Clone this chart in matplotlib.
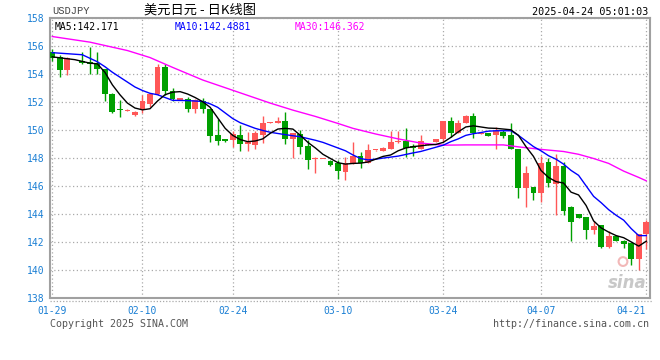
import numpy as np
import matplotlib
matplotlib.use("Agg")
from matplotlib import pyplot as plt
from matplotlib.lines import Line2D

nan = np.nan

# daily candles, index 0 = 01-29 (index 3 has no candle)
opens = [155.55, 155.17, 154.25, nan, 154.92, 154.80, 154.76, 154.35, 152.58, 151.48,
         151.36, 151.08, 151.40, 151.85, 152.56, 154.45, 152.80, 152.12, 152.20, 151.46,
         152.05, 151.46, 149.62, 149.34, 149.27, 149.65, 148.95, 148.90, 149.65, 150.50,
         150.47, 150.62, 149.34, 149.72, 148.84, 147.90, 147.90, 147.80, 147.60, 147.02,
         147.58, 148.10, 147.66, 148.53, 148.50, 148.65, 149.12, 149.18, 148.84, 148.65,
         148.93, 149.15, 149.32, 150.63, 149.80, 150.47, 150.99, 149.72, 149.78, 149.62,
         149.86, 149.65, 148.64, 145.86, 145.90, 145.50, 147.70, 146.10, 147.40, 144.50,
         143.99, 143.78, 142.88, 143.21, 141.67, 142.45, 142.10, 141.95, 140.75, 142.55]
highs = [155.78, 155.30, 155.18, nan, 155.58, 155.92, 155.58, 154.35, 152.60, 152.12,
         151.45, 151.35, 152.45, 152.60, 154.72, 154.70, 153.00, 152.25, 152.33, 152.16,
         152.30, 151.46, 150.75, 149.36, 149.93, 150.35, 149.86, 149.93, 150.98, 150.56,
         150.90, 151.24, 149.80, 150.00, 149.30, 148.07, 147.95, 147.82, 147.83, 148.08,
         149.12, 148.38, 149.00, 148.58, 148.80, 149.90, 149.93, 150.10, 148.95, 149.62,
         148.97, 149.35, 150.65, 150.94, 150.70, 151.05, 151.20, 149.76, 149.80, 150.20,
         150.00, 150.47, 148.66, 147.40, 145.92, 148.14, 148.00, 148.24, 147.69, 144.55,
         144.00, 143.80, 143.50, 143.22, 142.80, 142.46, 142.12, 141.96, 142.55, 143.57]
lows = [154.88, 153.76, 153.92, nan, 154.70, 154.00, 154.00, 152.07, 151.20, 150.90,
        151.33, 151.00, 151.20, 151.60, 152.50, 152.50, 152.05, 152.12, 151.30, 151.22,
        151.22, 149.10, 148.94, 149.15, 148.75, 148.52, 148.50, 148.60, 149.02, 150.50,
        150.45, 149.00, 148.00, 148.30, 147.18, 146.90, 147.90, 147.45, 146.50, 146.42,
        147.55, 147.30, 147.60, 148.52, 148.45, 148.60, 149.05, 148.08, 148.10, 148.62,
        148.93, 149.12, 149.15, 149.45, 149.78, 150.45, 149.41, 149.70, 149.55, 148.60,
        149.40, 148.60, 145.15, 144.52, 145.00, 144.82, 145.90, 143.95, 143.95, 142.03,
        143.70, 142.20, 142.60, 141.60, 141.55, 142.08, 141.60, 140.38, 140.00, 141.46]
closes = [155.15, 154.25, 155.15, nan, 154.78, 154.70, 154.36, 152.58, 151.30, 151.38,
          151.42, 151.30, 152.05, 152.52, 154.45, 152.75, 152.18, 152.23, 151.46, 152.10,
          151.46, 149.58, 149.22, 149.17, 149.70, 148.95, 149.10, 149.77, 150.47, 150.55,
          150.60, 149.34, 149.79, 148.80, 147.84, 147.97, 147.94, 147.49, 147.08, 147.63,
          148.15, 147.66, 148.56, 148.56, 148.70, 149.10, 149.20, 148.70, 148.68, 149.20,
          148.96, 149.34, 150.62, 149.80, 150.48, 151.00, 149.74, 149.76, 149.56, 149.90,
          149.55, 148.62, 145.86, 146.89, 145.52, 147.66, 146.22, 147.40, 144.20, 143.45,
          143.72, 142.88, 143.16, 141.67, 142.45, 142.10, 141.88, 140.75, 142.55, 143.40]

# moving averages (candle index, value)
ma5_idx = [0, 3, 5, 6, 7, 8, 9, 10, 11, 12, 13, 14, 15, 16, 17, 18, 19, 20, 21, 22,
           23, 24, 25, 26, 27, 28, 29, 30, 31, 32, 33, 34, 35, 36, 37, 38, 39, 40, 41, 42,
           43, 44, 45, 46, 47, 48, 49, 50, 51, 52, 53, 54, 55, 56, 57, 58, 59, 60, 61, 62,
           63, 64, 65, 66, 67, 68, 69, 70, 71, 72, 73, 74, 75, 76, 77, 78, 79]
ma5_val = [155.20, 155.00, 154.75, 154.70, 154.10, 153.20, 152.50, 151.90, 151.55, 151.42,
           151.50, 152.05, 152.50, 152.68, 152.72, 152.55, 152.30, 152.00, 151.60, 150.85,
           150.10, 149.60, 149.30, 149.15, 149.20, 149.35, 149.75, 150.05, 150.10, 150.05,
           149.60, 149.10, 148.70, 148.25, 147.95, 147.65, 147.55, 147.60, 147.62, 147.70,
           147.90, 148.10, 148.20, 148.50, 148.70, 148.80, 148.85, 148.92, 148.95, 149.10,
           149.45, 149.85, 150.20, 150.28, 150.20, 150.12, 150.10, 150.05, 150.00, 149.60,
           148.80, 148.10, 147.10, 146.60, 146.30, 146.20, 145.55, 145.35, 144.60, 143.50,
           143.00, 142.70, 142.45, 142.30, 142.00, 141.70, 142.05]
ma10_idx = [0, 4, 6, 7, 8, 9, 10, 11, 12, 13, 14, 15, 16, 18, 20, 21, 22, 23, 24, 25,
            26, 27, 28, 29, 31, 33, 35, 36, 37, 38, 39, 40, 41, 42, 43, 44, 46, 48, 49, 50,
            51, 52, 53, 54, 55, 56, 57, 58, 59, 61, 62, 63, 64, 65, 66, 67, 68, 69, 70, 71,
            72, 73, 74, 75, 76, 77, 78, 79]
ma10_val = [155.50, 155.35, 154.85, 154.50, 154.10, 153.75, 153.40, 153.05, 152.80, 152.60,
            152.50, 152.30, 152.10, 152.08, 152.02, 151.85, 151.60, 151.20, 150.80, 150.50,
            150.30, 150.10, 149.95, 149.82, 149.65, 149.50, 149.25, 149.10, 148.90, 148.70,
            148.50, 148.20, 147.95, 147.85, 147.90, 147.98, 148.12, 148.35, 148.45, 148.60,
            148.75, 148.90, 149.15, 149.35, 149.60, 149.72, 149.80, 149.90, 149.93, 149.93,
            149.60, 149.20, 148.80, 148.50, 148.15, 147.90, 147.55, 147.10, 146.75, 146.00,
            145.25, 144.80, 144.30, 143.90, 143.55, 142.95, 142.45, 142.45]
ma30_idx = [0, 5, 10, 13, 16, 20, 23, 26, 29, 32, 35, 38, 40, 43, 46, 49, 52, 55, 60, 62,
            65, 68, 70, 72, 74, 76, 78, 79]
ma30_val = [156.65, 156.25, 155.65, 155.15, 154.45, 153.55, 153.00, 152.45, 151.90, 151.40,
            150.95, 150.45, 150.10, 149.70, 149.35, 149.05, 148.90, 148.92, 148.92, 148.78,
            148.60, 148.45, 148.25, 147.95, 147.60, 147.05, 146.60, 146.36]

tick_idx = [0, 12, 24, 38, 52, 65, 79]
tick_lbl = ["01-29", "02-10", "02-24", "03-10", "03-24", "04-07", "04-21"]

RED = "#ff5757"
GREEN = "#00a000"
BLUE_TXT = "#1a7fd4"
MONO = "DejaVu Sans Mono"

fig = plt.figure(figsize=(6.6, 3.6), dpi=100)
ax = fig.add_axes([50 / 660, 62 / 360, 600 / 660, 280.4 / 360])

o = np.array(opens); h = np.array(highs); l = np.array(lows); c = np.array(closes)
x = np.arange(len(o))
ok = ~np.isnan(o)
up = c >= o
cols = np.where(up, RED, GREEN)

ax.vlines(x[ok], l[ok], h[ok], colors=cols[ok], lw=1, zorder=2)
bot = np.minimum(o, c)
hgt = np.maximum(np.abs(c - o), 0.07)
ax.bar(x[ok], hgt[ok], bottom=bot[ok], width=0.78, color=cols[ok], linewidth=0, zorder=3)

ax.plot(ma30_idx, ma30_val, color="#ff00ff", lw=1, zorder=4)
ax.plot(ma10_idx, ma10_val, color="#0000ff", lw=1, zorder=4)
ax.plot(ma5_idx, ma5_val, color="black", lw=1, zorder=5)

ax.set_xlim(-0.3, 79.5)
ax.set_ylim(138, 158)
ax.set_yticks(np.arange(138, 159, 2))
ax.set_yticklabels([str(v) for v in range(138, 159, 2)], family=MONO, fontsize=7, color=BLUE_TXT)
ax.set_xticks(tick_idx)
ax.set_xticklabels(tick_lbl, family=MONO, fontsize=7, color=BLUE_TXT)
ax.get_xticklabels()[-1].set_ha("right")
ax.tick_params(length=0, pad=4)
ax.tick_params(axis="x", pad=6)
ax.grid(True, color="#aaaaaa", linestyle=(0, (1, 2)), lw=0.9)
ax.set_axisbelow(True)
for s in ax.spines.values():
    s.set_color("#a0a0a0")
    s.set_linewidth(1.5)

# dotted rule under the frame
fig.add_artist(Line2D([50 / 660, 652 / 660], [59.5 / 360] * 2, color="#aaaaaa",
                      linestyle=(0, (1, 1.5)), lw=0.9))

# legend values inside the frame
ax.text(0.008, 0.985, "MA5:142.171", transform=ax.transAxes, family=MONO, fontsize=7,
        color="black", va="top")
ax.text(0.207, 0.985, "MA10:142.4881", transform=ax.transAxes, family=MONO, fontsize=7,
        color="#0000ff", va="top")
ax.text(0.408, 0.985, "MA30:146.362", transform=ax.transAxes, family=MONO, fontsize=7,
        color="#ff00ff", va="top")

# sina watermark
ax.text(0.995, 0.02, "sina", transform=ax.transAxes, ha="right", va="bottom",
        fontsize=12, style="italic", weight="bold", color="#c8c8c8", zorder=1)
ax.scatter([0.955], [0.13], transform=ax.transAxes, s=40, facecolors="none",
           edgecolors="#f2b8b8", linewidths=1.5, zorder=1)

# header
fig.text(52 / 660, 1 - 11 / 360, "USDJPY", family="Liberation Mono", fontsize=7.5,
         color="#444444", va="center")
fig.text(200 / 660, 1 - 10 / 360, "美元日元 - 日K线图",
         family=["Noto Sans CJK SC", "DejaVu Sans"], fontsize=9.5, color="black",
         ha="center", va="center")
fig.text(648 / 660, 1 - 12 / 360, "2025-04-24 05:01:03", family=MONO, fontsize=7.3,
         color="black", ha="right", va="center")

# footer
fig.text(50 / 660, 1 - 324 / 360, "Copyright 2025 SINA.COM", family=MONO, fontsize=7.2,
         color="#555555", va="center")
fig.text(649 / 660, 1 - 324 / 360, "http://finance.sina.com.cn", family=MONO, fontsize=7.2,
         color="#555555", ha="right", va="center")

fig.savefig("out.png", dpi=100, facecolor="white")
